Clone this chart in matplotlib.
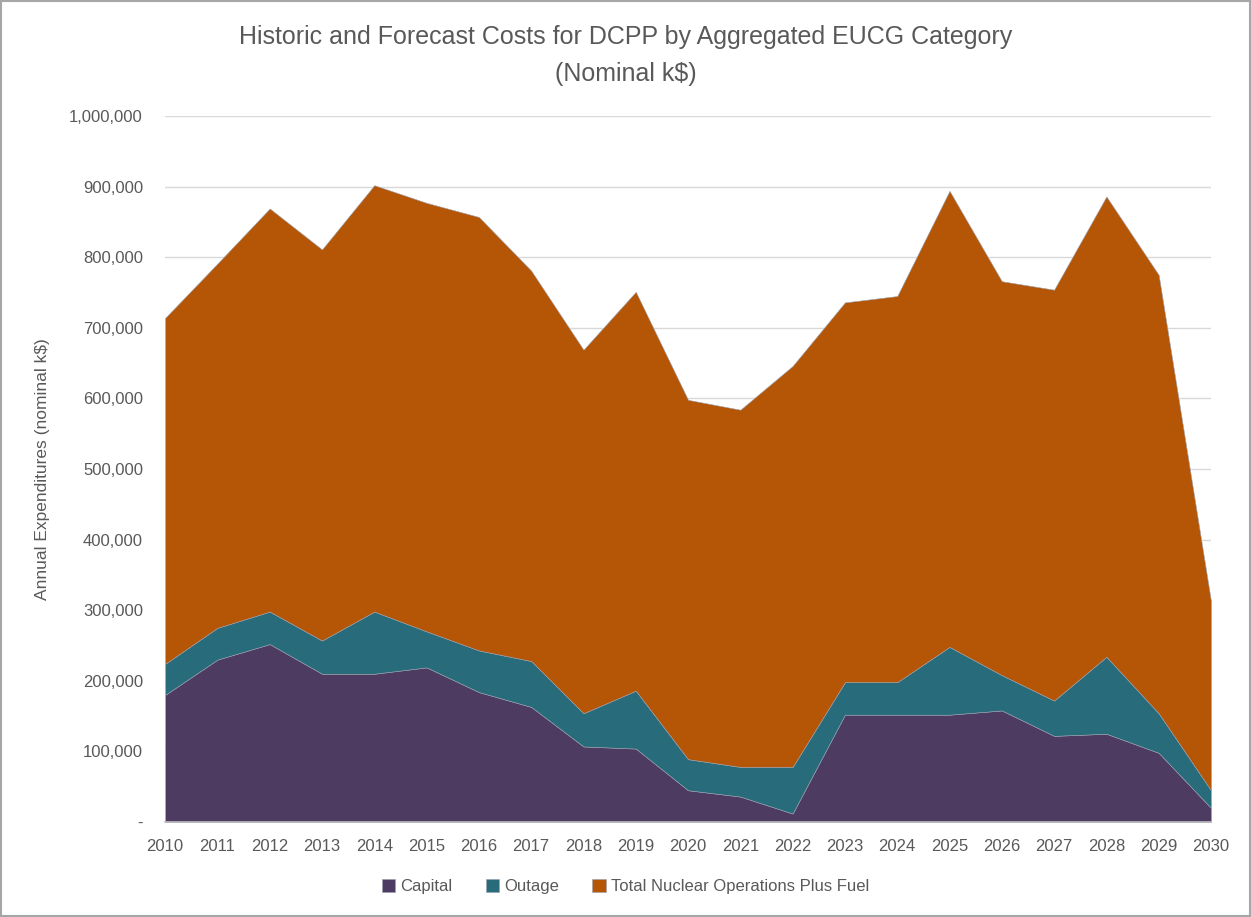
import numpy as np
import matplotlib.pyplot as plt
from matplotlib.ticker import FuncFormatter, MultipleLocator

years = list(range(2010, 2031))

# (k$)
capital = [180000, 230000, 252000, 210000, 210000, 219000, 184000, 163000, 107000, 104000,
           45000, 36000, 12000, 152000, 152000, 152000, 158000, 122000, 125000, 98000, 20000]
cap_plus_outage = [224000, 275000, 298000, 257000, 298000, 270000, 243000, 228000, 154000, 186000,
                   89000, 78000, 78000, 198000, 198000, 248000, 208000, 172000, 234000, 154000, 45000]
total = [714000, 791000, 869000, 811000, 902000, 877000, 857000, 781000, 669000, 751000,
         598000, 584000, 646000, 736000, 745000, 894000, 766000, 754000, 886000, 775000, 313000]

outage = [a - b for a, b in zip(cap_plus_outage, capital)]
operations = [a - b for a, b in zip(total, cap_plus_outage)]

labels = ['Capital', 'Outage', 'Total Nuclear Operations Plus Fuel']
colors = ['#4E3B61', '#286B7A', '#B55607']

plt.rcParams['font.family'] = ['Liberation Sans', 'DejaVu Sans']
txt = '#595959'

fig = plt.figure(figsize=(12.51, 9.17), dpi=100)
ax = fig.add_axes([0.132, 0.1036, 0.836, 0.7699])

ax.stackplot(years, capital, outage, operations, labels=labels, colors=colors,
             edgecolor='#9aa0b0', linewidth=0.4)

ax.set_xlim(2010, 2030)
ax.set_ylim(0, 1000000)
ax.yaxis.set_major_locator(MultipleLocator(100000))
ax.yaxis.set_major_formatter(FuncFormatter(lambda v, p: '-' if v == 0 else f'{int(v):,}'))
ax.set_xticks(years)
ax.set_xticklabels([str(y) for y in years])
ax.grid(axis='y', color='#d9d9d9', linewidth=1)
ax.set_axisbelow(True)
for s in ['top', 'right', 'left']:
    ax.spines[s].set_visible(False)
ax.spines['bottom'].set_color('#bfbfbf')
ax.spines['bottom'].set_linewidth(1.2)
ax.spines['bottom'].set_zorder(5)
ax.tick_params(axis='both', length=0, labelsize=12, colors=txt)
ax.tick_params(axis='x', pad=12)
ax.tick_params(axis='y', pad=16)

ax.set_ylabel('Annual Expenditures (nominal k$)', fontsize=12.5, color=txt, labelpad=14)

fig.text(0.5, 0.96, 'Historic and Forecast Costs for DCPP by Aggregated EUCG Category',
         ha='center', va='center', fontsize=18, color=txt)
fig.text(0.5, 0.919, '(Nominal k$)', ha='center', va='center', fontsize=18, color=txt)

leg = fig.legend(loc='center', bbox_to_anchor=(0.5, 0.033), ncol=3, frameon=False,
                 fontsize=12, handlelength=0.8, handleheight=0.8, handletextpad=0.3,
                 columnspacing=2.0)
for t in leg.get_texts():
    t.set_color(txt)

fig.patches.append(plt.Rectangle((0.001, 0.001), 0.998, 0.998, transform=fig.transFigure,
                                 fill=False, edgecolor='#a6a6a6', linewidth=1.5))

fig.savefig('out.png', dpi=100)
